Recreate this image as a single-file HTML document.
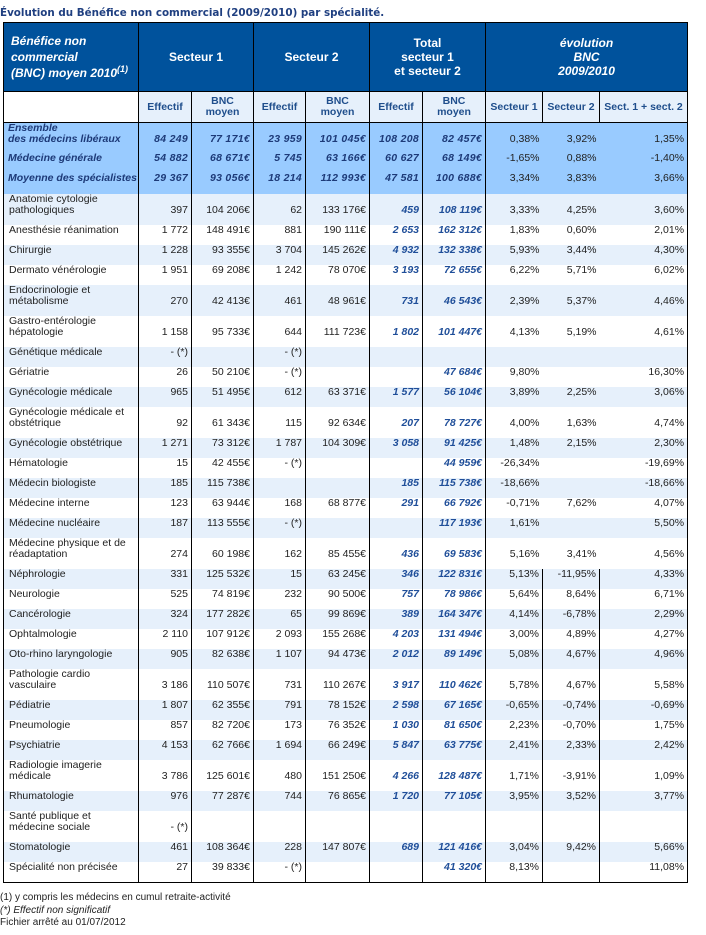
<!DOCTYPE html>
<html><head><meta charset="utf-8">
<style>
body{margin:0;width:706px;height:935px;background:#fff;position:relative;font-family:"Liberation Sans",Arial,sans-serif;overflow:hidden}
.title{position:absolute;left:0;top:6px;font-family:"DejaVu Sans",Verdana,sans-serif;font-size:11px;color:#1f3f80;white-space:nowrap;font-weight:bold;transform:scaleX(0.94);transform-origin:0 0}
table{position:absolute;left:3px;top:22px;border-collapse:collapse;table-layout:fixed;width:684px;border:1.5px solid #000}
td{padding:0 3px 0 3px;font-size:10.5px;line-height:11px;color:#222;vertical-align:top;text-align:right;white-space:nowrap;overflow:hidden}
td.l{text-align:left;padding-left:5px;white-space:normal}
.hd td{background:#00529c;color:#fff;font-weight:bold;font-size:12px;line-height:14px;text-align:center;vertical-align:middle;border-right:1.5px solid #000}
.hd td.l{font-style:italic;text-align:left;font-size:12px;line-height:16px;padding-left:7px}
.sh td{background:#e6f0fb;color:#1f4e8c;font-weight:bold;font-size:10.5px;line-height:11px;text-align:center;vertical-align:middle;border-right:1.5px solid #000;border-top:1px solid #000;border-bottom:1.5px solid #000}
.sh td.l{background:#fff}
.sm td{background:#99cbff;color:#1d3a78;font-weight:bold;font-style:italic;letter-spacing:0.3px}
.sm td.l{white-space:nowrap;padding-left:4px;padding-right:0;letter-spacing:0}
.sm td.c1,.sm td.c2,.sm td.c3,.sm td.c4,.sm td.c5,.sm td.c6,.sm td.c7{border-right:1.5px solid #000}
.sm td.p{font-weight:normal;font-style:normal;color:#222;letter-spacing:0}
tr.b td{background:#e6f0fb}
td.c1,td.c2,td.c3,td.c4,td.c5,td.c6,td.c7{border-right:1.5px solid #000}
td.t{font-weight:bold;font-style:italic;color:#1f4e99}
tr.ln td.c8,tr.ln td.c9{border-right:1.5px solid #000}
tr.r1 td{height:20px}
tr.r2 td{height:31px}
tr.r2 td.n{padding-top:11px;height:20px}
.foot{position:absolute;left:0;top:892px;font-size:10px;line-height:12.5px;color:#222}
sup{font-size:9px;vertical-align:5px;line-height:0}
</style></head><body>
<div class="title">Évolution du Bénéfice non commercial (2009/2010) par spécialité.</div>
<table>
<colgroup><col style="width:135px"><col style="width:53px"><col style="width:62px"><col style="width:52px"><col style="width:64px"><col style="width:53px"><col style="width:63px"><col style="width:57px"><col style="width:57px"><col style="width:88px"></colgroup>
<tr class="hd" style="height:69px"><td class="l">Bénéfice non commercial<br>(BNC) moyen 2010<sup>(1)</sup></td><td colspan="2">Secteur 1</td><td colspan="2">Secteur 2</td><td colspan="2">Total<br>secteur 1<br>et secteur 2</td><td colspan="3" style="font-style:italic">évolution<br>BNC<br>2009/2010</td></tr>
<tr class="sh" style="height:31px"><td class="l"></td><td>Effectif</td><td>BNC<br>moyen</td><td>Effectif</td><td>BNC<br>moyen</td><td>Effectif</td><td>BNC<br>moyen</td><td>Secteur 1</td><td>Secteur 2</td><td>Sect. 1 + sect. 2</td></tr>
<tr class="sm"><td class="l c1" style="height:30px">Ensemble<br>des médecins libéraux</td><td class="c2" style="padding-top:11px">84 249</td><td class="c3" style="padding-top:11px">77 171€</td><td class="c4" style="padding-top:11px">23 959</td><td class="c5" style="padding-top:11px">101 045€</td><td class="c6" style="padding-top:11px">108 208</td><td class="c7" style="padding-top:11px">82 457€</td><td class="p" style="padding-top:11px">0,38%</td><td class="p" style="padding-top:11px">3,92%</td><td class="p" style="padding-top:11px">1,35%</td></tr>
<tr class="sm"><td class="l c1" style="height:20px">Médecine générale</td><td class="c2">54 882</td><td class="c3">68 671€</td><td class="c4">5 745</td><td class="c5">63 166€</td><td class="c6">60 627</td><td class="c7">68 149€</td><td class="p">-1,65%</td><td class="p">0,88%</td><td class="p">-1,40%</td></tr>
<tr class="sm"><td class="l c1" style="height:21px">Moyenne des spécialistes</td><td class="c2">29 367</td><td class="c3">93 056€</td><td class="c4">18 214</td><td class="c5">112 993€</td><td class="c6">47 581</td><td class="c7">100 688€</td><td class="p">3,34%</td><td class="p">3,83%</td><td class="p">3,66%</td></tr>
<tr class="r2 b"><td class="l c1">Anatomie cytologie pathologiques</td><td class="n c2">397</td><td class="n c3">104 206€</td><td class="n c4">62</td><td class="n c5">133 176€</td><td class="n c6 t">459</td><td class="n c7 t">108 119€</td><td class="n">3,33%</td><td class="n">4,25%</td><td class="n">3,60%</td></tr>
<tr class="r1"><td class="l c1">Anesthésie réanimation</td><td class="c2">1 772</td><td class="c3">148 491€</td><td class="c4">881</td><td class="c5">190 111€</td><td class="c6 t">2 653</td><td class="c7 t">162 312€</td><td>1,83%</td><td>0,60%</td><td>2,01%</td></tr>
<tr class="r1 b"><td class="l c1">Chirurgie</td><td class="c2">1 228</td><td class="c3">93 355€</td><td class="c4">3 704</td><td class="c5">145 262€</td><td class="c6 t">4 932</td><td class="c7 t">132 338€</td><td>5,93%</td><td>3,44%</td><td>4,30%</td></tr>
<tr class="r1"><td class="l c1">Dermato vénérologie</td><td class="c2">1 951</td><td class="c3">69 208€</td><td class="c4">1 242</td><td class="c5">78 070€</td><td class="c6 t">3 193</td><td class="c7 t">72 655€</td><td>6,22%</td><td>5,71%</td><td>6,02%</td></tr>
<tr class="r2 b"><td class="l c1">Endocrinologie et métabolisme</td><td class="n c2">270</td><td class="n c3">42 413€</td><td class="n c4">461</td><td class="n c5">48 961€</td><td class="n c6 t">731</td><td class="n c7 t">46 543€</td><td class="n">2,39%</td><td class="n">5,37%</td><td class="n">4,46%</td></tr>
<tr class="r2"><td class="l c1">Gastro-entérologie hépatologie</td><td class="n c2">1 158</td><td class="n c3">95 733€</td><td class="n c4">644</td><td class="n c5">111 723€</td><td class="n c6 t">1 802</td><td class="n c7 t">101 447€</td><td class="n">4,13%</td><td class="n">5,19%</td><td class="n">4,61%</td></tr>
<tr class="r1 b"><td class="l c1">Génétique médicale</td><td class="c2">- (*)</td><td class="c3"></td><td class="c4">- (*)</td><td class="c5"></td><td class="c6 t"></td><td class="c7 t"></td><td></td><td></td><td></td></tr>
<tr class="r1"><td class="l c1">Gériatrie</td><td class="c2">26</td><td class="c3">50 210€</td><td class="c4">- (*)</td><td class="c5"></td><td class="c6 t"></td><td class="c7 t">47 684€</td><td>9,80%</td><td></td><td>16,30%</td></tr>
<tr class="r1 b"><td class="l c1">Gynécologie médicale</td><td class="c2">965</td><td class="c3">51 495€</td><td class="c4">612</td><td class="c5">63 371€</td><td class="c6 t">1 577</td><td class="c7 t">56 104€</td><td>3,89%</td><td>2,25%</td><td>3,06%</td></tr>
<tr class="r2"><td class="l c1">Gynécologie médicale et obstétrique</td><td class="n c2">92</td><td class="n c3">61 343€</td><td class="n c4">115</td><td class="n c5">92 634€</td><td class="n c6 t">207</td><td class="n c7 t">78 727€</td><td class="n">4,00%</td><td class="n">1,63%</td><td class="n">4,74%</td></tr>
<tr class="r1 b"><td class="l c1">Gynécologie obstétrique</td><td class="c2">1 271</td><td class="c3">73 312€</td><td class="c4">1 787</td><td class="c5">104 309€</td><td class="c6 t">3 058</td><td class="c7 t">91 425€</td><td>1,48%</td><td>2,15%</td><td>2,30%</td></tr>
<tr class="r1"><td class="l c1">Hématologie</td><td class="c2">15</td><td class="c3">42 455€</td><td class="c4">- (*)</td><td class="c5"></td><td class="c6 t"></td><td class="c7 t">44 959€</td><td>-26,34%</td><td></td><td>-19,69%</td></tr>
<tr class="r1 b"><td class="l c1">Médecin biologiste</td><td class="c2">185</td><td class="c3">115 738€</td><td class="c4"></td><td class="c5"></td><td class="c6 t">185</td><td class="c7 t">115 738€</td><td>-18,66%</td><td></td><td>-18,66%</td></tr>
<tr class="r1"><td class="l c1">Médecine interne</td><td class="c2">123</td><td class="c3">63 944€</td><td class="c4">168</td><td class="c5">68 877€</td><td class="c6 t">291</td><td class="c7 t">66 792€</td><td>-0,71%</td><td>7,62%</td><td>4,07%</td></tr>
<tr class="r1 b"><td class="l c1">Médecine nucléaire</td><td class="c2">187</td><td class="c3">113 555€</td><td class="c4">- (*)</td><td class="c5"></td><td class="c6 t"></td><td class="c7 t">117 193€</td><td>1,61%</td><td></td><td>5,50%</td></tr>
<tr class="r2"><td class="l c1">Médecine physique et de réadaptation</td><td class="n c2">274</td><td class="n c3">60 198€</td><td class="n c4">162</td><td class="n c5">85 455€</td><td class="n c6 t">436</td><td class="n c7 t">69 583€</td><td class="n">5,16%</td><td class="n">3,41%</td><td class="n">4,56%</td></tr>
<tr class="r1 b ln"><td class="l c1">Néphrologie</td><td class="c2">331</td><td class="c3">125 532€</td><td class="c4">15</td><td class="c5">63 245€</td><td class="c6 t">346</td><td class="c7 t">122 831€</td><td class="c8">5,13%</td><td class="c9">-11,95%</td><td>4,33%</td></tr>
<tr class="r1 ln"><td class="l c1">Neurologie</td><td class="c2">525</td><td class="c3">74 819€</td><td class="c4">232</td><td class="c5">90 500€</td><td class="c6 t">757</td><td class="c7 t">78 986€</td><td class="c8">5,64%</td><td class="c9">8,64%</td><td>6,71%</td></tr>
<tr class="r1 b ln"><td class="l c1">Cancérologie</td><td class="c2">324</td><td class="c3">177 282€</td><td class="c4">65</td><td class="c5">99 869€</td><td class="c6 t">389</td><td class="c7 t">164 347€</td><td class="c8">4,14%</td><td class="c9">-6,78%</td><td>2,29%</td></tr>
<tr class="r1 ln"><td class="l c1">Ophtalmologie</td><td class="c2">2 110</td><td class="c3">107 912€</td><td class="c4">2 093</td><td class="c5">155 268€</td><td class="c6 t">4 203</td><td class="c7 t">131 494€</td><td class="c8">3,00%</td><td class="c9">4,89%</td><td>4,27%</td></tr>
<tr class="r1 b ln"><td class="l c1">Oto-rhino laryngologie</td><td class="c2">905</td><td class="c3">82 638€</td><td class="c4">1 107</td><td class="c5">94 473€</td><td class="c6 t">2 012</td><td class="c7 t">89 149€</td><td class="c8">5,08%</td><td class="c9">4,67%</td><td>4,96%</td></tr>
<tr class="r2 ln"><td class="l c1">Pathologie cardio vasculaire</td><td class="n c2">3 186</td><td class="n c3">110 507€</td><td class="n c4">731</td><td class="n c5">110 267€</td><td class="n c6 t">3 917</td><td class="n c7 t">110 462€</td><td class="n c8">5,78%</td><td class="n c9">4,67%</td><td class="n">5,58%</td></tr>
<tr class="r1 b ln"><td class="l c1">Pédiatrie</td><td class="c2">1 807</td><td class="c3">62 355€</td><td class="c4">791</td><td class="c5">78 152€</td><td class="c6 t">2 598</td><td class="c7 t">67 165€</td><td class="c8">-0,65%</td><td class="c9">-0,74%</td><td>-0,69%</td></tr>
<tr class="r1 ln"><td class="l c1">Pneumologie</td><td class="c2">857</td><td class="c3">82 720€</td><td class="c4">173</td><td class="c5">76 352€</td><td class="c6 t">1 030</td><td class="c7 t">81 650€</td><td class="c8">2,23%</td><td class="c9">-0,70%</td><td>1,75%</td></tr>
<tr class="r1 b ln"><td class="l c1">Psychiatrie</td><td class="c2">4 153</td><td class="c3">62 766€</td><td class="c4">1 694</td><td class="c5">66 249€</td><td class="c6 t">5 847</td><td class="c7 t">63 775€</td><td class="c8">2,41%</td><td class="c9">2,33%</td><td>2,42%</td></tr>
<tr class="r2 ln"><td class="l c1">Radiologie imagerie médicale</td><td class="n c2">3 786</td><td class="n c3">125 601€</td><td class="n c4">480</td><td class="n c5">151 250€</td><td class="n c6 t">4 266</td><td class="n c7 t">128 487€</td><td class="n c8">1,71%</td><td class="n c9">-3,91%</td><td class="n">1,09%</td></tr>
<tr class="r1 b ln"><td class="l c1">Rhumatologie</td><td class="c2">976</td><td class="c3">77 287€</td><td class="c4">744</td><td class="c5">76 865€</td><td class="c6 t">1 720</td><td class="c7 t">77 105€</td><td class="c8">3,95%</td><td class="c9">3,52%</td><td>3,77%</td></tr>
<tr class="r2 ln"><td class="l c1">Santé publique et médecine sociale</td><td class="n c2">- (*)</td><td class="n c3"></td><td class="n c4"></td><td class="n c5"></td><td class="n c6 t"></td><td class="n c7 t"></td><td class="n c8"></td><td class="n c9"></td><td class="n"></td></tr>
<tr class="r1 b ln"><td class="l c1">Stomatologie</td><td class="c2">461</td><td class="c3">108 364€</td><td class="c4">228</td><td class="c5">147 807€</td><td class="c6 t">689</td><td class="c7 t">121 416€</td><td class="c8">3,04%</td><td class="c9">9,42%</td><td>5,66%</td></tr>
<tr class="r1 ln"><td class="l c1">Spécialité non précisée</td><td class="c2">27</td><td class="c3">39 833€</td><td class="c4">- (*)</td><td class="c5"></td><td class="c6 t"></td><td class="c7 t">41 320€</td><td class="c8">8,13%</td><td class="c9"></td><td>11,08%</td></tr>
</table>
<div class="foot">(1) y compris les médecins en cumul retraite-activité<br><i>(*) Effectif non significatif</i><br>Fichier arrêté au 01/07/2012</div>
</body></html>
